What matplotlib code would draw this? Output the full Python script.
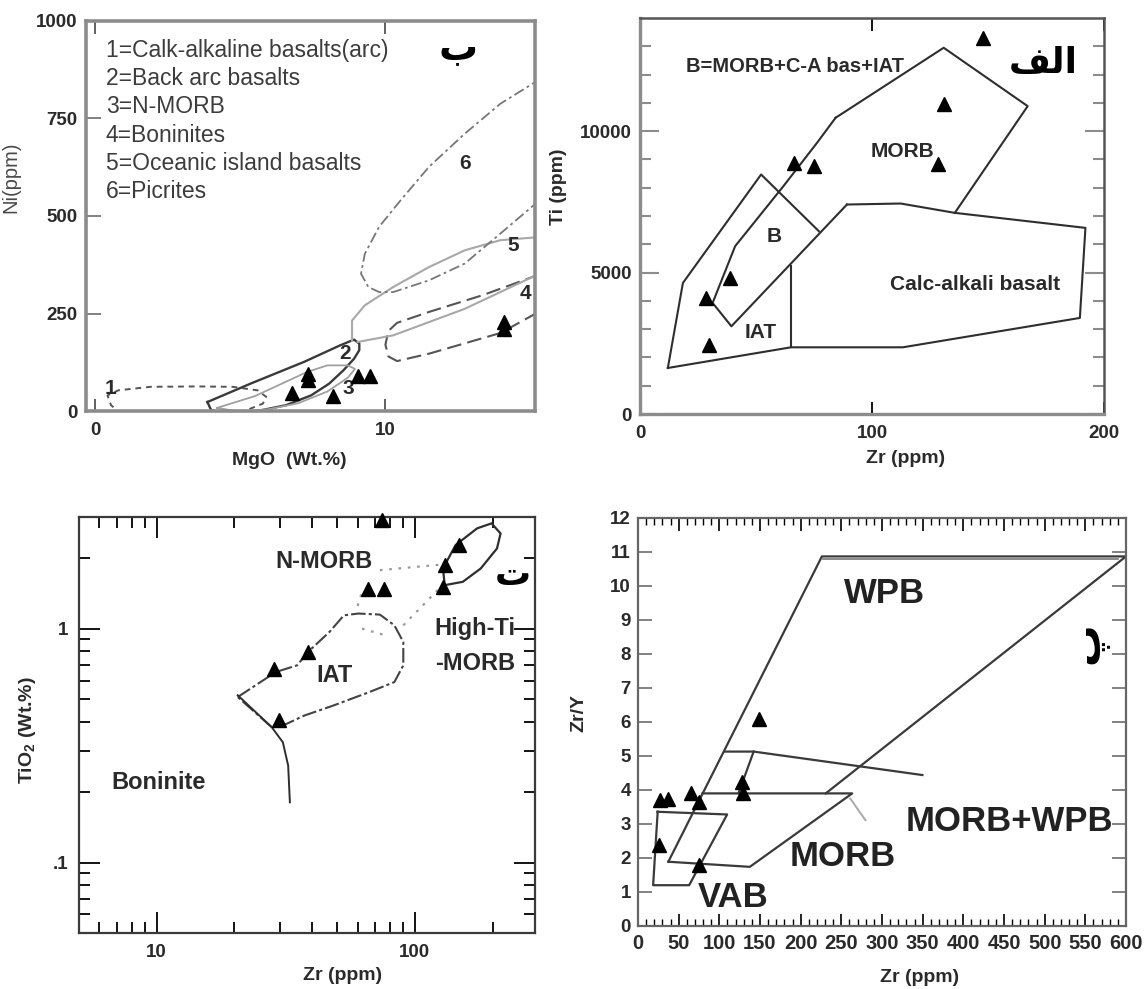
import matplotlib
matplotlib.use("Agg")
import matplotlib.pyplot as plt
from matplotlib.ticker import FixedLocator, FixedFormatter, NullFormatter

plt.rcParams['font.family'] = ['Liberation Sans', 'DejaVu Sans']
plt.rcParams['mathtext.fontset'] = 'custom'
plt.rcParams['mathtext.rm'] = 'Liberation Sans:bold'
plt.rcParams['mathtext.it'] = 'Liberation Sans:bold'
plt.rcParams['mathtext.bf'] = 'Liberation Sans:bold'

# ---------------- Ni vs MgO ----------------
mgo_samples = [7.32, 7.32, 6.80, 8.18, 9.04, 9.47, 14.08, 14.08]
ni_samples = [96, 79, 46, 38, 89, 89, 228, 209]

ni_field_calk = [(0.92, -8), (0.55, 15), (0.43, 40), (0.80, 53), (1.91, 62), (3.51, 63),
                 (4.74, 62), (5.60, 53), (5.90, 36), (5.78, 19), (5.35, 6), (4.86, -5)]
ni_field_backarc = [(3.87, 23), (5.35, 70), (7.20, 126), (8.43, 168), (8.92, 183), (9.10, 173),
                    (9.10, 156), (8.92, 134), (8.55, 104), (8.06, 70), (7.44, 40), (6.58, 15),
                    (5.60, 0), (4.74, -7), (4.0, 2), (3.87, 23)]
ni_field_nmorb = [(4.2, 8), (5.5, 38), (7.3, 100), (8.0, 117), (8.7, 117), (8.95, 108),
                  (8.7, 85), (8.0, 50), (7.0, 20), (6.0, 5), (5.0, -2), (4.2, 8)]
ni_field_boninite = [(15.3, 350), (13.35, 297), (11.5, 254), (10.4, 226), (10.1, 205), (10.0, 170),
                     (10.1, 140), (10.4, 128), (11.5, 147), (13.96, 200), (15.3, 255)]
ni_field_oib_upper = [(8.85, 180), (8.85, 232), (9.29, 271), (10.27, 318), (11.5, 369),
                      (12.73, 412), (13.96, 438), (15.3, 446)]
ni_field_oib_lower = [(9.04, 177), (10.27, 194), (12.73, 262), (15.3, 352)]
ni_field_picrite = [(15.3, 540), (13.96, 455), (12.73, 378), (11.5, 335), (10.27, 305), (9.78, 305),
                    (9.41, 318), (9.16, 352), (9.29, 403), (9.78, 472), (10.52, 540), (11.5, 626),
                    (12.73, 711), (13.96, 788), (15.3, 850)]
ni_legend = ["1=Calk-alkaline basalts(arc)", "2=Back arc basalts", "3=N-MORB",
             "4=Boninites", "5=Oceanic island basalts", "6=Picrites"]
ni_field_numbers = [("1", 0.55, 57), ("2", 8.61, 147), ("3", 8.73, 57),
                    ("4", 14.82, 301), ("5", 14.39, 425), ("6", 12.73, 634)]

# ---------------- Ti vs Zr ----------------
zr_ti_samples = [147.8, 130.9, 128.5, 66.2, 75.2, 38.6, 28.6, 29.7]
ti_samples = [13302, 10943, 8821, 8880, 8762, 4811, 4104, 2453]

ti_outer_left = [(12.0, 1627), (18.5, 4634), (52.2, 8467), (77.1, 6462)]
ti_morb_left = [(31.3, 3927), (41.0, 5932), (61.8, 8054), (76.3, 9587), (84.3, 10472)]
ti_morb_top = [(84.3, 10472), (130.9, 12948), (167.1, 10884), (135.7, 7111)]
ti_cab = [(89.2, 7406), (112.4, 7441), (135.7, 7111), (192.0, 6580), (189.6, 3396),
          (113.3, 2358), (65.1, 2358), (12.0, 1627)]
ti_iat_divider = [(65.1, 2358), (65.1, 5224)]
ti_b_lower = [(89.2, 7406), (39.4, 3101), (31.3, 3927)]

# ---------------- TiO2 vs Zr ----------------
zr_tio2_samples = [74.4, 148.4, 130.5, 128.0, 66.1, 75.6, 38.5, 28.4, 29.8]
tio2_samples = [2.91, 2.28, 1.87, 1.51, 1.48, 1.48, 0.794, 0.674, 0.405]

tio2_iat_loop = [(20.6, 0.51), (28.9, 0.652), (35.0, 0.697), (38.5, 0.794), (46.7, 0.968),
                 (53.1, 1.14), (60.4, 1.16), (73.2, 1.148), (83.3, 1.033), (90.2, 0.877),
                 (90.2, 0.697), (83.3, 0.591), (66.5, 0.535), (48.3, 0.469), (37.3, 0.425),
                 (30.8, 0.385), (27.9, 0.379)]
tio2_hiti_loop = [(130.5, 1.534), (128.5, 1.807), (143.8, 2.276), (174.3, 2.683), (198.2, 2.818),
                  (214.8, 2.55), (208.0, 2.2), (179.9, 1.807), (153.3, 1.585), (130.5, 1.534)]
tio2_nmorb_dots = [[(73.2, 1.778), (128.0, 1.88)],
                   [(60.0, 1.25), (62.0, 1.40)],
                   [(62.4, 1.0), (76.9, 0.936)],
                   [(90.2, 1.033), (128.0, 1.534)]]
tio2_boninite_line = [(20.6, 0.519), (27.9, 0.379), (30.8, 0.327), (32.3, 0.26), (32.8, 0.181)]

# ---------------- Zr/Y vs Zr ----------------
zr_zry_samples = [148.3, 27.0, 37.3, 65.3, 74.6, 128.2, 129.6, 25.6, 74.6]
zry_samples = [6.08, 3.70, 3.75, 3.90, 3.65, 4.24, 3.90, 2.38, 1.79]

zry_wpb = [(37.3, 1.89), (226.1, 10.87), (600.0, 10.87), (230.8, 3.90)]
zry_wpb_top_inner = [(228.0, 10.78), (590.0, 10.78)]
zry_morb = [(79.3, 3.90), (263.4, 3.90), (137.5, 1.74), (37.3, 1.89)]
zry_vab = [(24.2, 3.36), (109.6, 3.28), (62.9, 1.20), (18.6, 1.20), (24.2, 3.36)]
zry_upper = [(107.2, 5.13), (142.2, 5.13), (349.7, 4.44)]
zry_inner = [(142.2, 5.13), (123.5, 3.90)]
zry_leader = [(261.0, 3.75), (279.7, 3.11)]


def xy(points):
    return [p[0] for p in points], [p[1] for p in points]


W, H = 1144, 989
fig = plt.figure(figsize=(W / 100, H / 100), dpi=100)


def panel(left, top, right, bottom):
    return fig.add_axes([left / W, 1 - bottom / H, (right - left) / W, (bottom - top) / H])


TICKFONT = dict(fontsize=13.5, fontweight='bold', color='#2a2a2a')
LABELFONT = dict(fontsize=14, fontweight='bold', color='#2a2a2a')
ARABIC = ['DejaVu Sans']


def style_spines(ax, color, lw):
    for s in ax.spines.values():
        s.set_color(color)
        s.set_linewidth(lw)


def triangles(ax, x, y, ms=10.5):
    ax.plot(x, y, linestyle='none', marker='^', ms=ms, color='black', clip_on=False, zorder=5)


# ===== Ni vs MgO (ب) =====
ax1 = panel(86, 21, 535, 411)
ax1.set_xlim(-0.31, 15.15)
ax1.set_ylim(0, 1000)
style_spines(ax1, '#8c8c8c', 2.6)
ax1.plot(*xy(ni_field_calk), color='#555555', lw=1.4, ls=(0, (3, 2.5)))
ax1.plot(*xy(ni_field_backarc), color='#3a3a3a', lw=1.7)
ax1.plot(*xy(ni_field_nmorb), color='#a0a0a0', lw=1.3)
ax1.plot(*xy(ni_field_boninite), color='#555555', lw=1.5, ls=(0, (7, 3)))
ax1.plot(*xy(ni_field_oib_upper), color='#a8a8a8', lw=1.5)
ax1.plot(*xy(ni_field_oib_lower), color='#a8a8a8', lw=1.5)
ax1.plot(*xy(ni_field_picrite), color='#777777', lw=1.3, ls=(0, (6, 2, 1.5, 2)))
triangles(ax1, mgo_samples, ni_samples)
for i, line in enumerate(ni_legend):
    ax1.text(0.37, 925 - i * 72.6, line, fontsize=16.5, color='#3c3c3c', va='center', ha='left')
for lab, x, y in ni_field_numbers:
    ax1.text(x, y, lab, fontsize=15, fontweight='bold', color='#2a2a2a', ha='center', va='center')
ax1.text(12.5, 930, '\uFE8F', family=ARABIC, fontsize=28, fontweight='bold', ha='center', va='center')
ax1.xaxis.set_major_locator(FixedLocator([0, 10]))
ax1.yaxis.set_major_locator(FixedLocator([0, 250, 500, 750, 1000]))
ax1.tick_params(axis='x', direction='in', length=9, width=1.3, color='#555555', top=True, pad=8)
ax1.tick_params(axis='y', direction='in', length=11, width=1.3, color='#777777', pad=6)
for t in ax1.get_xticklabels() + ax1.get_yticklabels():
    t.set(**TICKFONT)
ax1.set_xlabel('MgO  (Wt.%)', **LABELFONT)
ax1.set_ylabel('Ni(ppm)', fontsize=14.5, color='#4a4a4a')
ax1.xaxis.set_label_coords(0.452, -0.105)
ax1.yaxis.set_label_coords(-0.147, 0.60)

# ===== Ti vs Zr (الف) =====
ax2 = panel(640, 18, 1104, 414)
ax2.set_xlim(0, 200)
ax2.set_ylim(0, 14000)
style_spines(ax2, '#555555', 1.8)
ax2.spines['left'].set_color('#8c8c8c')
ax2.spines['left'].set_linewidth(2.4)
ax2.spines['bottom'].set_color('#8c8c8c')
ax2.spines['bottom'].set_linewidth(2.4)
for pts in (ti_outer_left, ti_morb_left, ti_morb_top, ti_cab, ti_iat_divider, ti_b_lower):
    ax2.plot(*xy(pts), color='#2e2e2e', lw=1.5)
triangles(ax2, zr_ti_samples, ti_samples)
ax2.text(20, 12300, 'B=MORB+C-A bas+IAT', fontsize=14.5, fontweight='bold', color='#2a2a2a',
         ha='left', va='center')
ax2.text(113, 9292, 'MORB', fontsize=15, fontweight='bold', color='#2a2a2a', ha='center', va='center')
ax2.text(57.8, 6285, 'B', fontsize=15, fontweight='bold', color='#2a2a2a', ha='center', va='center')
ax2.text(52.2, 2866, 'IAT', fontsize=15, fontweight='bold', color='#2a2a2a', ha='center', va='center')
ax2.text(144.6, 4575, 'Calc-alkali basalt', fontsize=15, fontweight='bold', color='#2a2a2a',
         ha='center', va='center')
ax2.text(174, 12400, '\uFED2\uFEDF\uFE8D', family=ARABIC, fontsize=26, fontweight='bold',
         ha='center', va='center')
ax2.xaxis.set_major_locator(FixedLocator([0, 100, 200]))
ax2.yaxis.set_major_locator(FixedLocator([0, 5000, 10000]))
ax2.yaxis.set_minor_locator(FixedLocator([k * 1000 for k in range(1, 14) if k % 5]))
ax2.tick_params(axis='x', direction='in', length=9, width=1.3, top=True, pad=8)
ax2.tick_params(axis='y', which='major', direction='in', length=14, width=1.5, color='#8c8c8c',
                right=True, pad=6)
ax2.tick_params(axis='y', which='minor', direction='in', length=8, width=1.5, color='#8c8c8c',
                right=True)
for t in ax2.get_xticklabels() + ax2.get_yticklabels():
    t.set(**TICKFONT)
ax2.set_xlabel('Zr (ppm)', **LABELFONT)
ax2.set_ylabel('Ti (ppm)', **LABELFONT)
ax2.xaxis.set_label_coords(0.573, -0.091)
ax2.yaxis.set_label_coords(-0.157, 0.573)

# ===== TiO2 vs Zr (ت) =====
ax3 = panel(79, 517, 535, 933)
ax3.set_xscale('log')
ax3.set_yscale('log')
ax3.set_xlim(5, 292)
ax3.set_ylim(0.05, 3.0)
style_spines(ax3, '#3a3a3a', 1.6)
ax3.plot(*xy(tio2_iat_loop + tio2_iat_loop[:1]), color='#444444', lw=1.5, ls=(0, (7, 1.5, 1.5, 1.5)))
ax3.plot(*xy(tio2_hiti_loop), color='#2e2e2e', lw=1.6)
for seg in tio2_nmorb_dots:
    ax3.plot(*xy(seg), color='#9a9a9a', lw=1.6, ls=(0, (1.2, 3)))
ax3.plot(*xy(tio2_boninite_line), color='#2e2e2e', lw=1.4)
triangles(ax3, zr_tio2_samples, tio2_samples)
big3 = dict(fontsize=17, fontweight='bold', color='#2a2a2a', ha='center', va='center')
ax3.text(44.5, 1.93, 'N-MORB', **big3)
ax3.text(49, 0.631, 'IAT', **big3)
ax3.text(171.4, 1.0, 'High-Ti', **big3)
ax3.text(171.4, 0.708, '-MORB', **big3)
ax3.text(10.2, 0.22, 'Boninite', **big3)
ax3.text(240, 1.69, '\uFE95', family=ARABIC, fontsize=26, fontweight='bold', ha='center', va='center')
ax3.xaxis.set_major_locator(FixedLocator([10, 100]))
ax3.xaxis.set_major_formatter(FixedFormatter(['10', '100']))
ax3.xaxis.set_minor_locator(FixedLocator([6, 7, 8, 9, 20, 30, 40, 50, 60, 70, 80, 90, 200]))
ax3.xaxis.set_minor_formatter(NullFormatter())
ax3.yaxis.set_major_locator(FixedLocator([0.1, 1]))
ax3.yaxis.set_major_formatter(FixedFormatter(['.1', '1']))
ax3.yaxis.set_minor_locator(FixedLocator([0.06, 0.07, 0.08, 0.09, 0.2, 0.3, 0.4, 0.5, 0.6,
                                          0.7, 0.8, 0.9, 2]))
ax3.yaxis.set_minor_formatter(NullFormatter())
ax3.tick_params(which='major', direction='in', length=15, width=1.3, top=True, right=True, pad=8)
ax3.tick_params(which='minor', direction='in', length=8, width=1.3, top=True, right=True)
for t in ax3.get_xticklabels() + ax3.get_yticklabels():
    t.set(**TICKFONT)
ax3.set_xlabel('Zr (ppm)', **LABELFONT)
ax3.set_ylabel('TiO$_2$ (Wt.%)', **LABELFONT)
ax3.xaxis.set_label_coords(0.579, -0.082)
ax3.yaxis.set_label_coords(-0.091, 0.488)

# ===== Zr/Y vs Zr (پ) =====
ax4 = panel(638, 518, 1126, 926)
ax4.set_xlim(0, 600)
ax4.set_ylim(0, 12)
style_spines(ax4, '#666666', 1.6)
ax4.plot(*xy(zry_wpb), color='#3a3a3a', lw=1.6)
ax4.plot(*xy(zry_wpb_top_inner), color='#777777', lw=1.2)
ax4.plot(*xy(zry_morb), color='#3a3a3a', lw=1.6)
ax4.plot(*xy(zry_vab), color='#3a3a3a', lw=1.6)
ax4.plot(*xy(zry_upper), color='#3a3a3a', lw=1.6)
ax4.plot(*xy(zry_inner), color='#3a3a3a', lw=1.6)
ax4.plot(*xy(zry_leader), color='#aaaaaa', lw=1.4)
triangles(ax4, zr_zry_samples, zry_samples)
big4 = dict(fontsize=25, fontweight='bold', color='#222222', ha='center', va='center')
ax4.text(303, 9.79, 'WPB', **big4)
ax4.text(457, 3.06, 'MORB+WPB', **big4)
ax4.text(251.7, 2.03, 'MORB', **big4)
ax4.text(116.6, 0.85, 'VAB', **big4)
ax4.text(552, 8.32, '\uFB56', family=ARABIC, fontsize=30, fontweight='bold', rotation=90,
         ha='center', va='center')
ax4.xaxis.set_major_locator(FixedLocator(list(range(0, 601, 50))))
ax4.xaxis.set_minor_locator(FixedLocator([v for v in range(0, 601, 10) if v % 50]))
ax4.yaxis.set_major_locator(FixedLocator(list(range(0, 13))))
ax4.tick_params(axis='x', which='major', direction='in', length=9, width=1.2, top=True, pad=6)
ax4.tick_params(axis='x', which='minor', direction='in', length=5, width=1.0, top=True)
ax4.tick_params(axis='y', direction='in', length=10, width=1.3, color='#777777', right=True, pad=5)
for t in ax4.get_yticklabels():
    t.set(**TICKFONT)
for t in ax4.get_xticklabels():
    t.set(fontsize=14.5, fontweight='bold', color='#2a2a2a')
ax4.set_xlabel('Zr (ppm)', **LABELFONT)
ax4.set_ylabel('Zr/Y', **LABELFONT)
ax4.xaxis.set_label_coords(0.576, -0.105)
ax4.yaxis.set_label_coords(-0.104, 0.522)

fig.savefig('out.png', dpi=100)
